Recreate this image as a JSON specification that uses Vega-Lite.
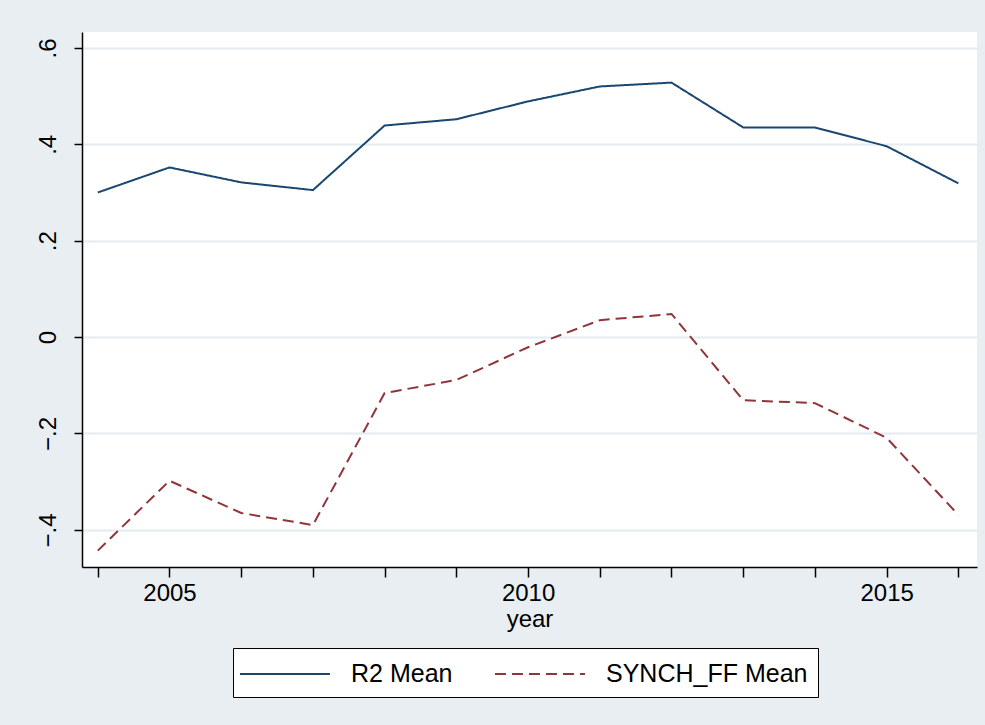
{
  "$schema": "https://vega.github.io/schema/vega-lite/v6.json",
  "width": 895,
  "height": 535,
  "autosize": {"type": "none"},
  "padding": {"left": 82, "top": 32, "right": 8, "bottom": 158},
  "background": "#e8eef1",
  "config": {
    "view": {"fill": "white", "stroke": null},
    "font": "Liberation Sans"
  },
  "data": {
    "values": [
      {"year": 2004, "series": "R2 Mean", "value": 0.300},
      {"year": 2005, "series": "R2 Mean", "value": 0.352},
      {"year": 2006, "series": "R2 Mean", "value": 0.321},
      {"year": 2007, "series": "R2 Mean", "value": 0.305},
      {"year": 2008, "series": "R2 Mean", "value": 0.439},
      {"year": 2009, "series": "R2 Mean", "value": 0.452},
      {"year": 2010, "series": "R2 Mean", "value": 0.489},
      {"year": 2011, "series": "R2 Mean", "value": 0.520},
      {"year": 2012, "series": "R2 Mean", "value": 0.528},
      {"year": 2013, "series": "R2 Mean", "value": 0.435},
      {"year": 2014, "series": "R2 Mean", "value": 0.435},
      {"year": 2015, "series": "R2 Mean", "value": 0.396},
      {"year": 2016, "series": "R2 Mean", "value": 0.319},
      {"year": 2004, "series": "SYNCH_FF Mean", "value": -0.443},
      {"year": 2005, "series": "SYNCH_FF Mean", "value": -0.298},
      {"year": 2006, "series": "SYNCH_FF Mean", "value": -0.365},
      {"year": 2007, "series": "SYNCH_FF Mean", "value": -0.390},
      {"year": 2008, "series": "SYNCH_FF Mean", "value": -0.116},
      {"year": 2009, "series": "SYNCH_FF Mean", "value": -0.089},
      {"year": 2010, "series": "SYNCH_FF Mean", "value": -0.021},
      {"year": 2011, "series": "SYNCH_FF Mean", "value": 0.035},
      {"year": 2012, "series": "SYNCH_FF Mean", "value": 0.048},
      {"year": 2013, "series": "SYNCH_FF Mean", "value": -0.131},
      {"year": 2014, "series": "SYNCH_FF Mean", "value": -0.137},
      {"year": 2015, "series": "SYNCH_FF Mean", "value": -0.209},
      {"year": 2016, "series": "SYNCH_FF Mean", "value": -0.369}
    ]
  },
  "mark": {"type": "line", "strokeWidth": 2},
  "encoding": {
    "x": {
      "field": "year",
      "type": "quantitative",
      "scale": {"domain": [2003.78, 2016.26], "nice": false, "zero": false},
      "axis": {
        "title": "year",
        "titleFont": "Liberation Sans",
        "titleFontSize": 24,
        "titleFontWeight": "normal",
        "titleColor": "black",
        "titlePadding": 2,
        "values": [2004, 2005, 2006, 2007, 2008, 2009, 2010, 2011, 2012, 2013, 2014, 2015, 2016],
        "labelExpr": "datum.value % 5 == 0 ? format(datum.value, 'd') : ''",
        "labelFontSize": 24,
        "labelColor": "black",
        "labelPadding": 4,
        "tickSize": 10,
        "tickColor": "black",
        "tickWidth": 1.5,
        "domainColor": "black",
        "domainWidth": 1.5,
        "grid": false
      }
    },
    "y": {
      "field": "value",
      "type": "quantitative",
      "scale": {"domain": [-0.477, 0.633], "nice": false, "zero": false},
      "axis": {
        "title": null,
        "values": [-0.4, -0.2, 0, 0.2, 0.4, 0.6],
        "labelExpr": "datum.value == 0 ? '0' : replace(format(datum.value, '.1f'), '0.', '.')",
        "labelAngle": -90,
        "labelAlign": "center",
        "labelBaseline": "bottom",
        "labelFontSize": 24,
        "labelColor": "black",
        "labelPadding": 14,
        "tickSize": 8,
        "tickColor": "black",
        "tickWidth": 1.5,
        "domainColor": "black",
        "domainWidth": 1.5,
        "grid": true,
        "gridColor": "#e4ecf0",
        "gridWidth": 2
      }
    },
    "color": {
      "field": "series",
      "type": "nominal",
      "scale": {"domain": ["R2 Mean", "SYNCH_FF Mean"], "range": ["#1a476f", "#90353b"]},
      "legend": {
        "title": null,
        "orient": "none",
        "legendX": 151,
        "legendY": 616,
        "direction": "horizontal",
        "columns": 2,
        "fillColor": "white",
        "strokeColor": "black",
        "padding": 10,
        "symbolType": "M-1.27,0H4.73",
        "symbolSize": 900,
        "symbolStrokeWidth": 2,
        "labelFontSize": 25,
        "labelColor": "black",
        "labelOffset": 76,
        "columnPadding": 37,
        "labelLimit": 300
      }
    },
    "strokeDash": {
      "field": "series",
      "type": "nominal",
      "scale": {"domain": ["R2 Mean", "SYNCH_FF Mean"], "range": [[1, 0], [11, 6]]},
      "legend": null
    }
  }
}
